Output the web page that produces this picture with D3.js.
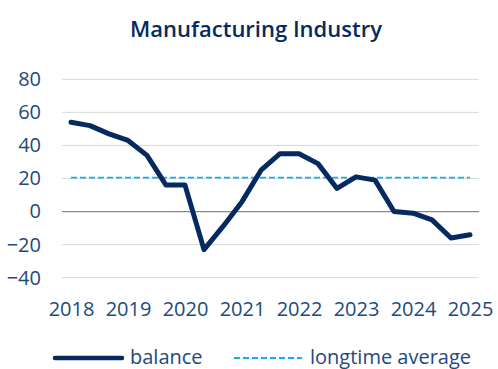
<!DOCTYPE html>
<html>
<head>
<meta charset="utf-8">
<script src="https://cdn.jsdelivr.net/npm/d3@7"></script>
<style>
	body { margin: 0; background: #fff; }
	svg { display: block; font-family: "Open Sans", sans-serif; }
</style>
</head>
<body>
<svg class="canvas" width="498" height="369"></svg>
<script>
// balance, one value every four months from 2018 to 2025
var periods = d3.range(22).map(function(i) { return 2018 + i / 3; });
var balance = [54, 52, 47, 43, 34, 16, 16, -23, -9, 6, 25, 35, 35, 29, 14, 21, 19, 0, -1, -5, -16, -14];
var longtime_average = 20.5;
var year_ticks = [2018, 2019, 2020, 2021, 2022, 2023, 2024, 2025];
var value_ticks = [80, 60, 40, 20, 0, -20, -40];

var svg = d3.select('.canvas');
var navy = '#062a5f';
var label_color = '#214a7c';
var light_blue = '#12aef0';

var x = d3.scaleLinear().domain([2018, 2025]).range([71, 470]);
var y = d3.scaleLinear().domain([-40, 80]).range([277.7, 79.3]);

// TITLE
svg.append('text')
	.attr('x', 256)
	.attr('y', 37)
	.attr('text-anchor', 'middle')
	.attr('fill', navy)
	.style('font-size', '22px')
	.style('font-weight', 600)
	.text('Manufacturing Industry');

// GRID
svg.append('g').selectAll('line')
	.data(value_ticks)
	.enter().append('line')
	.attr('x1', 62)
	.attr('x2', 479)
	.attr('y1', function(d) { return y(d); })
	.attr('y2', function(d) { return y(d); })
	.attr('stroke', function(d) { return d === 0 ? '#8a8a8a' : '#d9d9d9'; })
	.attr('stroke-width', function(d) { return d === 0 ? 1.2 : 1; });

// Y AXIS
var y_axis = svg.append('g')
	.attr('transform', 'translate(41,0)')
	.call(d3.axisLeft(y).tickValues(value_ticks).tickSize(0).tickPadding(0));
y_axis.select('.domain').remove();
y_axis.selectAll('text')
	.attr('fill', label_color)
	.style('font-size', '20px')
	.style('font-family', '"Open Sans", sans-serif');

// X AXIS
var x_axis = svg.append('g')
	.attr('transform', 'translate(0,301.5)')
	.call(d3.axisBottom(x).tickValues(year_ticks).tickFormat(d3.format('d')).tickSize(0).tickPadding(0));
x_axis.select('.domain').remove();
x_axis.selectAll('text')
	.attr('fill', label_color)
	.style('font-size', '20px')
	.style('font-family', '"Open Sans", sans-serif');

// LONGTIME AVERAGE
svg.append('line')
	.attr('x1', x(periods[0]))
	.attr('x2', x(periods[periods.length - 1]))
	.attr('y1', y(longtime_average))
	.attr('y2', y(longtime_average))
	.attr('stroke', light_blue)
	.attr('stroke-width', 1.8)
	.attr('stroke-dasharray', '6,3');

// BALANCE LINE
var line = d3.line()
	.x(function(d, i) { return x(periods[i]); })
	.y(function(d) { return y(d); });

svg.append('path')
	.datum(balance)
	.attr('d', line)
	.attr('fill', 'none')
	.attr('stroke', navy)
	.attr('stroke-width', 5)
	.attr('stroke-linejoin', 'round')
	.attr('stroke-linecap', 'round');

// LEGEND
var legend = svg.append('g');
legend.append('line')
	.attr('x1', 55).attr('x2', 122)
	.attr('y1', 358).attr('y2', 358)
	.attr('stroke', navy)
	.attr('stroke-width', 4.5)
	.attr('stroke-linecap', 'round');
legend.append('text')
	.attr('x', 130).attr('y', 364)
	.attr('fill', label_color)
	.style('font-size', '20px')
	.text('balance');
legend.append('line')
	.attr('x1', 234).attr('x2', 302)
	.attr('y1', 358).attr('y2', 358)
	.attr('stroke', light_blue)
	.attr('stroke-width', 1.8)
	.attr('stroke-dasharray', '6,3');
legend.append('text')
	.attr('x', 310).attr('y', 364)
	.attr('fill', label_color)
	.style('font-size', '20px')
	.text('longtime average');
</script>
</body>
</html>
